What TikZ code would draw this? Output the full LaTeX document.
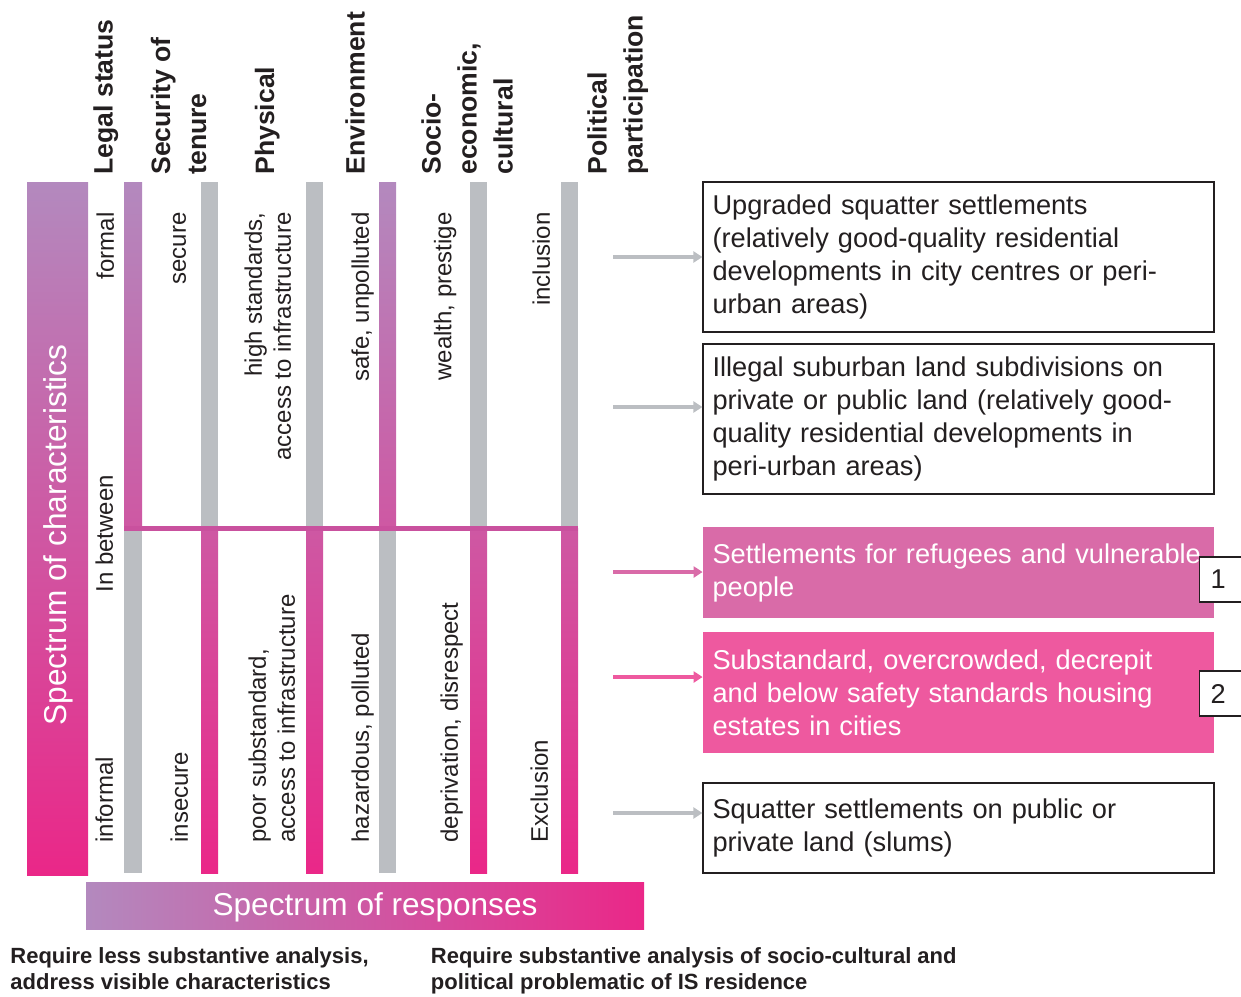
\documentclass[tikz,border=0pt]{standalone}
\usepackage{fontspec}
\setmainfont{Liberation Sans}
\usetikzlibrary{arrows.meta}
\definecolor{mypurple}{HTML}{B389BE}
\definecolor{mymagenta}{HTML}{EA2788}
\definecolor{mymid}{HTML}{CE58A3}
\definecolor{mygray}{HTML}{BBBEC2}
\definecolor{myline}{HTML}{C9519E}
\definecolor{myboxc}{HTML}{D96BA8}
\definecolor{myboxd}{HTML}{EE599F}
\definecolor{mytext}{HTML}{231F20}

\tikzset{
  head/.style={rotate=90, anchor=north west, align=left, inner sep=0pt, text=mytext, font=\bfseries\fontsize{13.3pt}{18pt}\selectfont},
  upperlab/.style={rotate=90, anchor=north east, align=right, inner sep=0pt, text=mytext, font=\fontsize{12pt}{14.5pt}\selectfont},
  lowerlab/.style={rotate=90, anchor=north west, align=left, inner sep=0pt, text=mytext, font=\fontsize{12pt}{14.5pt}\selectfont},
  spectrum/.style={text=white, inner sep=0pt, font=\fontsize{15.8pt}{15.8pt}\selectfont},
  housebox/.style={minimum width=255.5pt, text width=246pt, inner xsep=4.75pt, align=left, font=\fontsize{13.6pt}{16.5pt}\selectfont},
  whitebox/.style={housebox, draw=mytext, line width=0.6pt, fill=white, text=mytext},
  numbox/.style={draw=mytext, line width=0.6pt, fill=white, anchor=west, minimum height=22.5pt, inner xsep=5.5pt, text=mytext, font=\fontsize{13.6pt}{13.6pt}\selectfont},
  note/.style={anchor=north west, align=left, inner sep=0pt, text=mytext, font=\bfseries\fontsize{11pt}{13.3pt}\selectfont},
  arrowline/.style={line width=1.7pt, -{Triangle[length=4.5pt, width=5.5pt]}}
}

\begin{document}
\begin{tikzpicture}[x=0.5pt, y=-0.5pt]%
\useasboundingbox (0,0) rectangle (1241,996);%
% spectrum of characteristics
\shade[top color=mypurple, bottom color=mymagenta] (27,182) rectangle (88,875);%
\node[spectrum, rotate=90] (charac) at (58,535) {Spectrum of characteristics};%
% column bars, upper half
\shade[top color=mypurple, bottom color=mymid] (124,182) rectangle (142,528);%
\fill[mygray] (201,182) rectangle (218,528);%
\fill[mygray] (306,182) rectangle (323,528);%
\shade[top color=mypurple, bottom color=mymid] (379,182) rectangle (396,528);%
\fill[mygray] (470,182) rectangle (487,528);%
\fill[mygray] (561,182) rectangle (578,528);%
% column bars, lower half
\fill[mygray] (124,528) rectangle (142,873);%
\shade[top color=mymid, bottom color=mymagenta] (201,528) rectangle (218,873);%
\shade[top color=mymid, bottom color=mymagenta] (306,528) rectangle (323,873);%
\fill[mygray] (379,528) rectangle (396,873);%
\shade[top color=mymid, bottom color=mymagenta] (470,528) rectangle (487,873);%
\shade[top color=mymid, bottom color=mymagenta] (561,528) rectangle (578,873);%
\fill[myline] (124,526) rectangle (578,531);%
% column heads
\node[head] (legal) at (93,175) {Legal status};%
\node[head] (tenure) at (150.5,175) {Security of\\tenure};%
\node[head] (physical) at (254.5,175) {Physical};%
\node[head] (environ) at (345,175) {Environment};%
\node[head] (socio) at (421,175) {Socio-\\economic,\\cultural};%
\node[head] (politic) at (587,175) {Political\\participation};%
% upper characteristics
\node[upperlab] (formal) at (96,212) {formal};%
\node[upperlab] (secure) at (172.5,212) {secure};%
\node[upperlab] (highstd) at (244,212) {high standards,\\access to infrastructure};%
\node[upperlab] (safe) at (351,212) {safe, unpolluted};%
\node[upperlab] (wealth) at (433.5,212) {wealth, prestige};%
\node[upperlab] (inclusion) at (532,212) {inclusion};%
% lower characteristics
\node[lowerlab] (between) at (95,593) {In between};%
\node[lowerlab] (informal) at (95,843) {informal};%
\node[lowerlab] (insecure) at (170,843) {insecure};%
\node[lowerlab] (poorstd) at (248,843) {poor substandard,\\access to infrastructure};%
\node[lowerlab] (hazard) at (351,843) {hazardous, polluted};%
\node[lowerlab] (depriv) at (440,843) {deprivation, disrespect};%
\node[lowerlab] (exclusion) at (530,843) {Exclusion};%
% settlement types
\node[whitebox, minimum height=75pt] (upgraded) at (958.5,257) {Upgraded squatter settlements\\(relatively good-quality residential\\developments in city centres or peri-\\urban areas)};%
\node[whitebox, minimum height=75pt] (illegal) at (958.5,419) {Illegal suburban land subdivisions on\\private or public land (relatively good-\\quality residential developments in\\peri-urban areas)};%
\node[housebox, fill=myboxc, text=white, minimum height=45.5pt] (refugee) at (958.5,572.5) {Settlements for refugees and vulnerable\\people};%
\node[housebox, fill=myboxd, text=white, minimum height=60.5pt] (substd) at (958.5,692.5) {Substandard, overcrowded, decrepit\\and below safety standards housing\\estates in cities};%
\node[whitebox, minimum height=45pt] (squatter) at (958.5,828) {Squatter settlements on public or\\private land (slums)};%
\node[numbox] (numone) at (1199,579.5) {\makebox[25pt][l]{1}};%
\node[numbox] (numtwo) at (1199,693.5) {\makebox[25pt][l]{2}};%
% arrows
\coordinate (upgraded-in) at (613,257);%
\coordinate (illegal-in) at (613,407);%
\coordinate (refugee-in) at (613,572);%
\coordinate (substd-in) at (613,677);%
\coordinate (squatter-in) at (613,813);%
\draw[arrowline, mygray] (upgraded-in) -- (upgraded-in -| upgraded.west);%
\draw[arrowline, mygray] (illegal-in) -- (illegal-in -| illegal.west);%
\draw[arrowline, myboxc] (refugee-in) -- (refugee-in -| refugee.west);%
\draw[arrowline, myboxd] (substd-in) -- (substd-in -| substd.west);%
\draw[arrowline, mygray] (squatter-in) -- (squatter-in -| squatter.west);%
% spectrum of responses
\shade[left color=mypurple, right color=mymagenta] (86,882) rectangle (644,929);%
\node[spectrum] (responses) at (375,907) {Spectrum of responses};%
\node[note] (lessnote) at (10,947) {Require less substantive analysis,\\address visible characteristics};%
\node[note] (morenote) at (430.5,947) {Require substantive analysis of socio-cultural and\\political problematic of IS residence};%
\end{tikzpicture}
\end{document}
